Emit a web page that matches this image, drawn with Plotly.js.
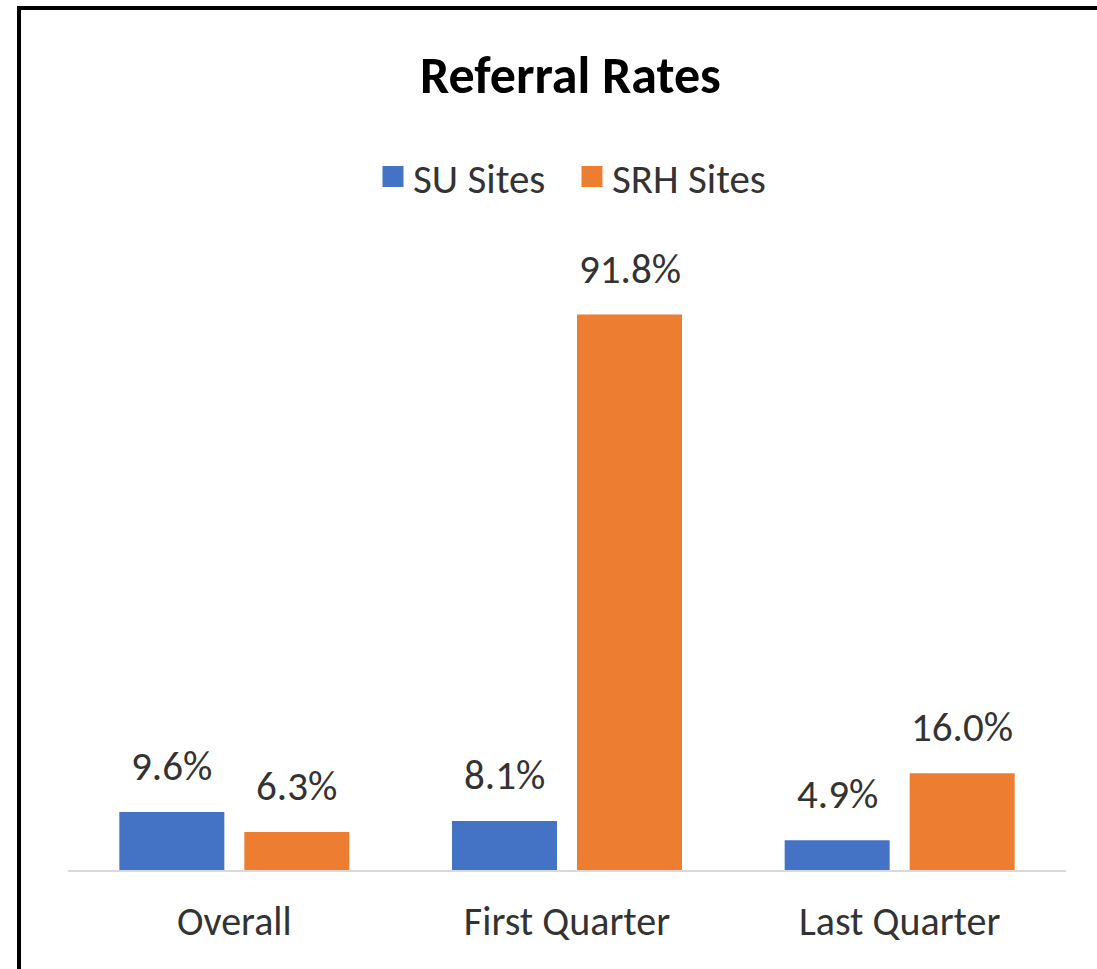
<!DOCTYPE html>
<html>
<head>
<meta charset="utf-8">
<script src="https://cdn.plot.ly/plotly-3.0.1.min.js"></script>
<style>
  body { margin: 0; background: #fff; }
  #plot { position: absolute; left: 0; top: 0; width: 1097px; height: 969px; }
  #frame { position: absolute; left: 17px; top: 6px; width: 1080px; height: 963px;
           border-top: 4px solid #000; border-left: 4px solid #000; box-sizing: border-box;
           pointer-events: none; }
</style>
</head>
<body>
<div id="plot"></div>
<div id="frame"></div>
<script>
var categories = ['Overall', 'First Quarter', 'Last Quarter'];
var suSites = [9.6, 8.1, 4.9];
var srhSites = [6.3, 91.8, 16.0];
var seriesNames = ['SU Sites', 'SRH Sites'];
var colors = ['#4472C4', '#ED7D31'];

var FONT = 'Carlito, Lato, sans-serif';
var TEXT = '#333333';
var bargap = 0.2485;

var trace1 = {
  x: categories,
  y: suSites,
  name: seriesNames[0],
  type: 'bar',
  marker: {color: colors[0]},
  showlegend: false,
  hoverinfo: 'x+y'
};

var trace2 = {
  x: categories,
  y: srhSites,
  name: seriesNames[1],
  type: 'bar',
  marker: {color: colors[1]},
  showlegend: false,
  hoverinfo: 'x+y'
};

// legend-only entries so the swatches come out bigger than the bar default
var leg1 = {x: [null], y: [null], type: 'scatter', mode: 'markers', name: seriesNames[0],
  marker: {symbol: 'square', size: 20, color: colors[0], line: {width: 5, color: colors[0]}}};
var leg2 = {x: [null], y: [null], type: 'scatter', mode: 'markers', name: seriesNames[1],
  marker: {symbol: 'square', size: 20, color: colors[1], line: {width: 5, color: colors[1]}}};

// value labels above each bar
var annotations = [];
var offset = (1 - bargap) / 4;
[suSites, srhSites].forEach(function(vals, s) {
  vals.forEach(function(v, i) {
    annotations.push({
      x: i + (s === 0 ? -offset : offset),
      y: v,
      xref: 'x', yref: 'y',
      text: v.toFixed(1) + '%',
      showarrow: false,
      yanchor: 'bottom',
      yshift: 19,
      font: {family: FONT, size: 41, color: TEXT}
    });
  });
});

var data = [trace1, trace2, leg1, leg2];

var layout = {
  width: 1097,
  height: 969,
  margin: {l: 68, r: 31, t: 265, b: 99},
  paper_bgcolor: '#fff',
  plot_bgcolor: '#fff',
  font: {family: FONT, color: TEXT},
  title: {
    text: '<b>Referral Rates</b>',
    font: {family: FONT, size: 52, color: '#000'},
    x: 0.52, xanchor: 'center',
    y: 0.923, yanchor: 'middle', yref: 'container'
  },
  barmode: 'group',
  bargap: bargap,
  bargroupgap: 0.16,
  showlegend: true,
  legend: {
    orientation: 'h',
    x: 0.505, xanchor: 'center',
    y: 1.1455, yanchor: 'middle',
    entrywidth: 154,
    font: {family: FONT, size: 41, color: TEXT}
  },
  xaxis: {
    type: 'category',
    range: [-0.5, 2.5],
    showline: true,
    linecolor: '#d9d9d9',
    linewidth: 2,
    showgrid: false,
    ticks: '',
    ticklabelstandoff: 15,
    tickfont: {family: FONT, size: 40, color: TEXT}
  },
  yaxis: {
    range: [0, 100],
    visible: false,
    showgrid: false,
    zeroline: false
  },
  annotations: annotations
};

Plotly.newPlot('plot', data, layout, {displayModeBar: false});
</script>
</body>
</html>
